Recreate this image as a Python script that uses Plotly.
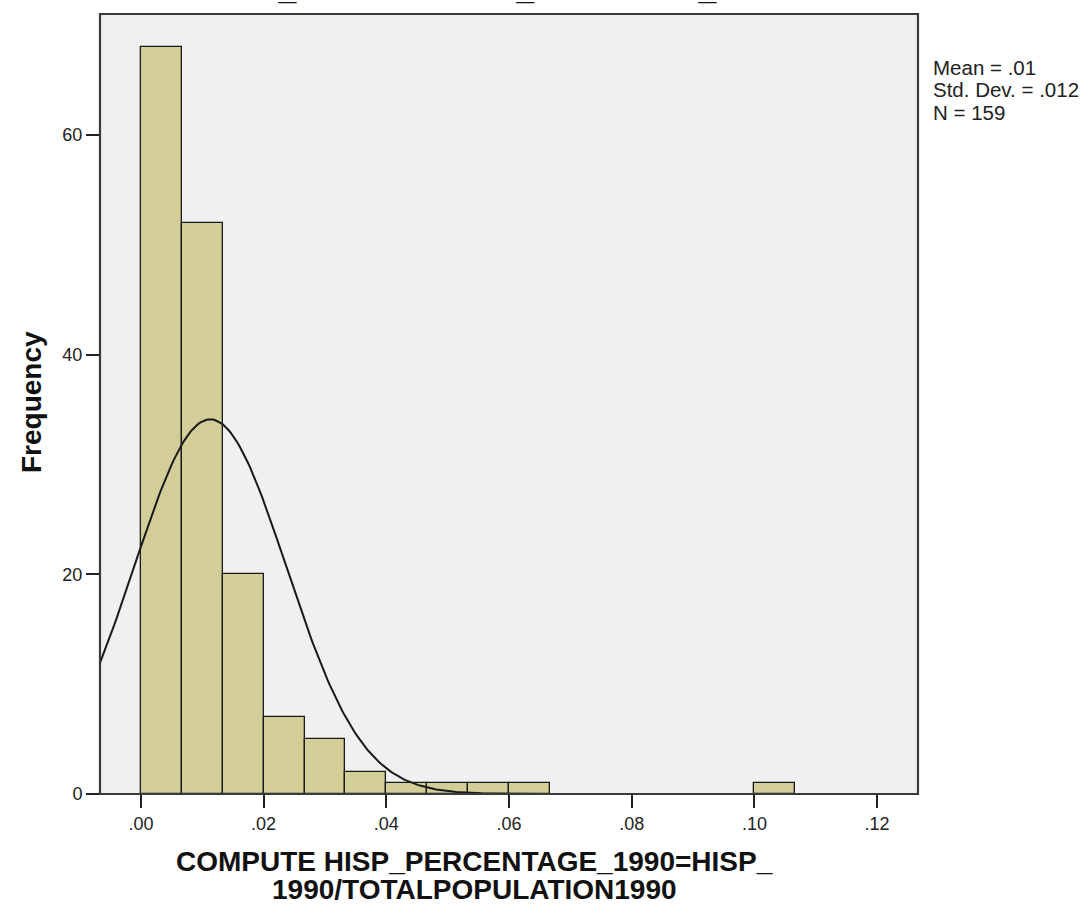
import numpy as np
import plotly.graph_objects as go

# Histogram of the 1990 Hispanic share per unit (bin width = .02/3)
bin_start = 0.0
bin_width = 0.02 / 3
counts = [68, 52, 20, 7, 5, 2, 1, 1, 1, 1, 0, 0, 0, 0, 0, 1]

# Summary statistics shown beside the plot
mean_val = 0.0113
sd_val = 0.0124
n_obs = 159
stat_lines = ["Mean = .01", "Std. Dev. = .012", f"N = {n_obs}"]

x_tick_vals = [0.00, 0.02, 0.04, 0.06, 0.08, 0.10, 0.12]
x_tick_text = [".00", ".02", ".04", ".06", ".08", ".10", ".12"]
y_tick_vals = [0, 20, 40, 60]

x_range = [-bin_width, 19 * bin_width]
y_range = [0, 71]

centers = [bin_start + (i + 0.5) * bin_width for i, c in enumerate(counts) if c > 0]
heights = [c for c in counts if c > 0]

fig = go.Figure()
fig.add_trace(go.Bar(
    x=centers, y=heights, width=bin_width,
    marker=dict(color="#d3ce97", line=dict(color="#1a1a1a", width=1.3)),
    hoverinfo="x+y", showlegend=False,
))

# Fitted normal curve scaled to counts
xs = np.linspace(x_range[0], x_range[1], 400)
ys = n_obs * bin_width / (sd_val * np.sqrt(2 * np.pi)) * np.exp(-0.5 * ((xs - mean_val) / sd_val) ** 2)
fig.add_trace(go.Scatter(x=xs, y=ys, mode="lines",
                         line=dict(color="#1a1a1a", width=2), showlegend=False,
                         hoverinfo="skip"))

FONT = "Liberation Sans, Arial, sans-serif"
axis_font = dict(family=FONT, size=18, color="#222")
fig.update_xaxes(range=x_range, tickvals=x_tick_vals, ticktext=x_tick_text,
                 ticks="outside", ticklen=13, tickwidth=2, tickcolor="#222",
                 showgrid=False, zeroline=False, showline=False,
                 tickfont=axis_font)
fig.update_yaxes(range=y_range, tickvals=y_tick_vals,
                 ticks="outside", ticklen=13, tickwidth=1.5, tickcolor="#222",
                 showgrid=False, zeroline=False, showline=False,
                 tickfont=axis_font)

# Plot frame
fig.add_shape(type="rect", xref="paper", yref="paper", x0=0, y0=0, x1=1, y1=1,
              line=dict(color="#3a3a3a", width=2.2), layer="above")

PLOT_H = 913 - 14 - 119  # plot area height in px


def py(pix):
    """Paper y for a page pixel row."""
    return (913 - 119 - pix) / PLOT_H


def px(pix):
    """Paper x for a page pixel column."""
    return (pix - 100) / (1089 - 100 - 171)


bold = dict(family=FONT, size=28, color="#111")
fig.add_annotation(xref="paper", yref="paper", x=px(474), y=py(862),
                   text="<b>COMPUTE HISP_PERCENTAGE_1990=HISP_</b>", showarrow=False,
                   font=bold, xanchor="center", yanchor="middle")
fig.add_annotation(xref="paper", yref="paper", x=px(474), y=py(889),
                   text="<b>1990/TOTALPOPULATION1990</b>", showarrow=False,
                   font=bold, xanchor="center", yanchor="middle")
fig.add_annotation(xref="paper", yref="paper", x=px(31), y=py(402),
                   text="<b>Frequency</b>", textangle=-90, showarrow=False,
                   font=dict(family=FONT, size=28, color="#111"),
                   xanchor="center", yanchor="middle")
# Chart title, running off the top of the page
fig.add_annotation(xref="paper", yref="paper", x=px(33), y=1.0335,
                   text="<b>COMPUTE HISP_PERCENTAGE_1990=HISP_1990/TOTALPOPULATION1990</b>",
                   showarrow=False,
                   font=dict(family=FONT, size=32, color="#111"),
                   xanchor="left", yanchor="middle")

for i, line in enumerate(stat_lines):
    fig.add_annotation(xref="paper", yref="paper", x=px(931), y=py(68 + 22 * i),
                       text=line, showarrow=False, align="left",
                       font=dict(family=FONT, size=20.5, color="#222"),
                       xanchor="left", yanchor="middle")

fig.update_layout(
    width=1089, height=913,
    margin=dict(l=100, r=171, t=14, b=119),
    plot_bgcolor="#f0f0f0", paper_bgcolor="white",
    bargap=0,
)

fig.write_html("out.html")
